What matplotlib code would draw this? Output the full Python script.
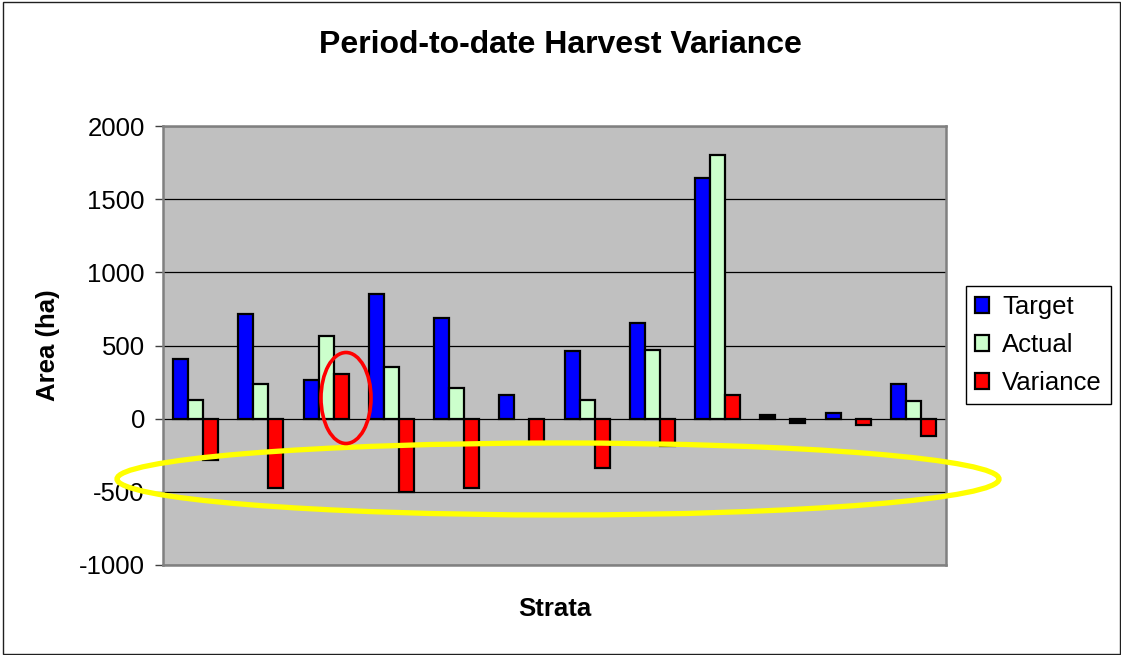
import matplotlib
matplotlib.use('Agg')
import matplotlib.pyplot as plt
import numpy as np
from matplotlib.patches import Ellipse, Rectangle, Patch

plt.rcParams['font.family'] = ['Liberation Sans', 'DejaVu Sans']

# values (12 strata, no labels shown)
strata = ['1', '2', '3', '4', '5', '6', '7', '8', '9', '10', '11', '12']
target = [410, 716, 261, 852, 686, 164, 459, 655, 1644, 28, 40, 240]
actual = [125, 239, 563, 352, 211, 0, 125, 466, 1804, 0, 0, 120]
variance = [-285, -477, 302, -500, -475, -164, -334, -189, 160, -32, -44, -120]
yticks = [-1000, -500, 0, 500, 1000, 1500, 2000]

W, H = 1121, 655
fig = plt.figure(figsize=(W / 100, H / 100), dpi=100)
ax = fig.add_axes([163 / W, 1 - 565 / H, 783 / W, 439 / H])
ax.set_facecolor('#C0C0C0')

x = np.arange(len(strata))
w = 0.23
kw = dict(width=w, edgecolor='black', linewidth=1.6, zorder=3)
b1 = ax.bar(x - w, target, color='#0000FF', **kw)
b2 = ax.bar(x, actual, color='#CCFFCC', **kw)
b3 = ax.bar(x + w, variance, color='#FF0000', **kw)

# zero bars are not drawn in the original
for bars in (b1, b2, b3):
    for p in bars:
        if p.get_height() == 0:
            p.set_visible(False)
# the tiny bars of stratum 10 render solid black
b1[9].set_facecolor('black')
b3[9].set_facecolor('black')

ax.set_xlim(-0.5, len(strata) - 0.5)
ax.set_ylim(-1000, 2000)
ax.set_yticks(yticks)
ax.set_yticklabels([str(v) for v in yticks], fontsize=18.5)
ax.set_xticks([])
ax.yaxis.grid(True, color='black', linewidth=0.9, zorder=1)
ax.set_axisbelow(True)
ax.tick_params(axis='y', length=6, width=1, color='#404040', pad=7)
for s in ax.spines.values():
    s.set_color('#808080')
    s.set_linewidth(1.8)

fig.text(0.5, 1 - 52.7 / H, 'Period-to-date Harvest Variance', ha='center',
         va='baseline', fontsize=23, fontweight='bold')
fig.text(554.5 / W, 1 - 609 / H, 'Strata', ha='center', va='center',
         fontsize=18.5, fontweight='bold')
fig.text(47.5 / W, 1 - 345.5 / H, 'Area (ha)', ha='center', va='center',
         rotation=90, fontsize=18.5, fontweight='bold')

handles = [Patch(facecolor='#0000FF', edgecolor='black', linewidth=1.6),
           Patch(facecolor='#CCFFCC', edgecolor='black', linewidth=1.6),
           Patch(facecolor='#FF0000', edgecolor='black', linewidth=1.6)]
leg = fig.legend(handles, ['Target', 'Actual', 'Variance'], loc='upper left',
                 bbox_to_anchor=(966 / W, 1 - 286 / H), borderaxespad=0,
                 fontsize=18.5, handlelength=0.55, handleheight=0.55,
                 handletextpad=0.5, labelspacing=0.55, borderpad=0.35,
                 fancybox=False, framealpha=1)
leg.get_frame().set_edgecolor('black')
leg.get_frame().set_linewidth(1.0)

# highlight ellipses drawn on top of the chart
fig.add_artist(Ellipse((558 / W, 1 - 479 / H), 882 / W, 72 / H, fill=False,
                       edgecolor='#FFFF00', linewidth=3.8, transform=fig.transFigure,
                       zorder=10))
fig.add_artist(Ellipse((346 / W, 1 - 398 / H), 50 / W, 91 / H, fill=False,
                       edgecolor='#FF0000', linewidth=2.6, transform=fig.transFigure,
                       zorder=10))

# outer chart border
fig.add_artist(Rectangle((3 / W, 1 - 654 / H), 1117 / W, 652 / H, fill=False,
                         edgecolor='#202020', linewidth=1.0, transform=fig.transFigure))

fig.savefig('out.png', dpi=100)
